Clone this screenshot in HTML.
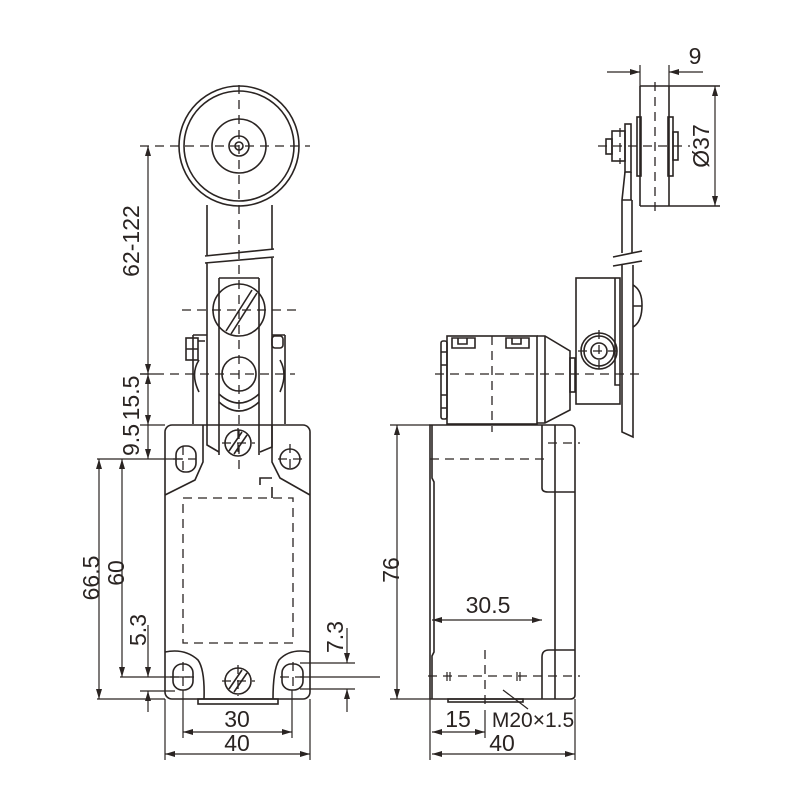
<!DOCTYPE html>
<html><head><meta charset="utf-8"><style>html,body{margin:0;padding:0;background:#fff}svg{display:block}</style></head>
<body>
<svg width="800" height="800" viewBox="0 0 800 800" xmlns="http://www.w3.org/2000/svg" font-family="Liberation Sans, sans-serif">
<defs>
<marker id="a" viewBox="0 0 10 6" refX="10" refY="3" markerWidth="11" markerHeight="6" orient="auto-start-reverse" markerUnits="userSpaceOnUse"><path d="M0,0 L10,3 L0,6 z" fill="#2a2422"/></marker>
</defs>
<g fill="none" stroke="#2a2422" stroke-width="1.6">
<circle cx="239" cy="146" r="60"/>
<circle cx="239" cy="146" r="55"/>
<circle cx="239" cy="146" r="27"/>
<circle cx="239" cy="146" r="10"/>
<circle cx="239" cy="146" r="4"/>
<path d="M207,205 V255 M272,205 V250 M205,256 L274,249 M205,263 L274,257 M207,263 V430 M272,258 V430"/>
<path d="M219,278 V455 M259,278 V455 M219,278 H259"/>
<circle cx="239" cy="310" r="26"/>
<path d="M226,331 L252,290 M231,334 L257,293"/>
<circle cx="239" cy="374" r="17"/>
<path d="M219,394 Q239,412 259,394 M219,402 Q239,420 259,402"/>
<path d="M193,335 V424 M285,335 V424 M193,335 H207 M272,335 H285"/>
<rect x="186" y="338" width="12" height="22"/>
<path d="M186,349 H198 M198,341 H205"/>
<rect x="272" y="336" width="11" height="12" rx="3"/>
<path d="M199,360 Q190,374 199,392 M280,360 Q288,374 280,392"/>
<rect x="165" y="425" width="145" height="274" rx="7"/>
<path d="M165,495 L195,480 L203,462 V425 M310,495 L280,478 L272,462 V425"/>
<path d="M207,430 V445 L219,452 M272,430 V447 L260,452"/>
<path d="M165,652 Q185,648 198,660 Q205,670 204,699 M310,652 Q290,648 279,660 Q273,670 273,699"/>
<rect x="198" y="699" width="80" height="5"/>
<rect x="176" y="446" width="20" height="26" rx="9"/>
<circle cx="290" cy="459" r="10"/>
<rect x="173" y="664" width="20" height="26" rx="9"/>
<rect x="282" y="664" width="21" height="26" rx="9"/>
<circle cx="238" cy="443" r="13"/>
<path d="M229,451 L242,432 M234,454 L247,435"/>
<circle cx="238" cy="681" r="13"/>
<path d="M229,689 L242,670 M234,692 L247,673"/>
<path d="M260,485 V478 H272 M272,487 V498"/>
</g>
<g fill="none" stroke="#2a2422" stroke-width="1.3" stroke-dasharray="9,6">
<path d="M140,146 H310 M239,85 V470 M140,374 H295 M183,498 H293 V643 H183 Z M296,310 H180"/>
<path d="M183,446 V475 M173,459 H196 M290,444 V474 M278,459 H302 M183,662 V692 M170,677 H197 M293,662 V692 M280,677 H306 M238,428 V458 M222,443 H255 M238,665 V696 M222,681 H255"/>
</g>
<g stroke="#2a2422" stroke-width="1.2" fill="none">
<path d="M148,146 V374" marker-start="url(#a)" marker-end="url(#a)"/>
<path d="M140,374 H155 M140,425 H165 M97,459 H183 M120,677 H190 M97,699 H165 M140,691 H175"/>
<path d="M148,374 V425" marker-start="url(#a)" marker-end="url(#a)"/>
<path d="M148,425 V459" marker-end="url(#a)"/>
<path d="M99,459 V699" marker-start="url(#a)" marker-end="url(#a)"/>
<path d="M122,459 V677" marker-start="url(#a)" marker-end="url(#a)"/>
<path d="M148,625 V677" marker-end="url(#a)"/>
<path d="M148,712 V691" marker-end="url(#a)"/>
<path d="M347,628 V663" marker-end="url(#a)"/>
<path d="M347,712 V689" marker-end="url(#a)"/>
<path d="M300,663 H355 M300,677 H380 M300,689 H355"/>
<path d="M165,699 V760 M310,699 V760 M183,690 V738 M292,690 V738"/>
<path d="M183,732 H292" marker-start="url(#a)" marker-end="url(#a)"/>
<path d="M165,754 H310" marker-start="url(#a)" marker-end="url(#a)"/>
</g>
<g fill="#2a2422" font-size="23">
<text transform="translate(139,241) rotate(-90)" text-anchor="middle">62-122</text>
<text transform="translate(139,398) rotate(-90)" text-anchor="middle">15.5</text>
<text transform="translate(139,440) rotate(-90)" text-anchor="middle">9.5</text>
<text transform="translate(99,578) rotate(-90)" text-anchor="middle">66.5</text>
<text transform="translate(124,573) rotate(-90)" text-anchor="middle">60</text>
<text transform="translate(146,630) rotate(-90)" text-anchor="middle">5.3</text>
<text transform="translate(343,637) rotate(-90)" text-anchor="middle">7.3</text>
<text x="237" y="727" text-anchor="middle">30</text>
<text x="237" y="751" text-anchor="middle">40</text>
</g>
<g fill="none" stroke="#2a2422" stroke-width="1.6">
<path d="M640,86 H720 M640,206 H720 M640,86 V206 M669,86 V206"/>
<rect x="637" y="117" width="4" height="59"/>
<rect x="668" y="117" width="5" height="59"/>
<rect x="673" y="132" width="5" height="28"/>
<rect x="625" y="124" width="6" height="48"/>
<rect x="612" y="131" width="13" height="30"/>
<rect x="606" y="139" width="6" height="15"/>
<path d="M625,172 L622,200 V253 M631,172 V200 M632,200 V253 M622,200 H632"/>
<path d="M613,257 L642,251 M613,266 L642,261"/>
<path d="M622,265 V432 L633,437 V265"/>
<rect x="576" y="278" width="44" height="126"/>
<path d="M615,278 V385 H620"/>
<path d="M633,285 Q642,290 642,305 Q642,322 633,327 M633,306 H642"/>
<circle cx="599" cy="351" r="18"/>
<circle cx="599" cy="351" r="15"/>
<circle cx="599" cy="351" r="8"/>
<rect x="447" y="336" width="90" height="88"/>
<path d="M537,336 H545 L570,351 V410 L545,423 H537 M545,336 V423"/>
<rect x="570" y="358" width="5" height="34"/>
<rect x="441" y="341" width="6" height="78" rx="2"/>
<path d="M441,352 H447 M441,365 H447 M441,395 H447 M441,408 H447"/>
<path d="M452,348 V338 H475 V348 Z M506,348 V338 H529 V348 Z M458,338 V344 H467 V338 M512,338 V344 H521 V338"/>
<path d="M430,699 V425 H570 Q575,425 575,430 V695 Q575,699 570,699 H430"/>
<path d="M432,425 V478 L434,482 V652 L432,656 V699"/>
<path d="M542,425 V488 Q542,492 548,492 H575 M555,425 V699"/>
<path d="M542,699 V657 Q542,650 549,650 H575"/>
<rect x="448" y="699" width="75" height="3"/>
</g>
<g fill="none" stroke="#2a2422" stroke-width="1.3" stroke-dasharray="9,6">
<path d="M655,82 V212 M598,146 H690 M435,374 H640 M492,336 V432 M430,459 H545 M548,443 H580 M428,676 H580 M485,650 V710 M620,128 V164 M599,330 V372 M578,351 H620"/>
</g>
<g stroke="#2a2422" stroke-width="1.2" fill="none">
<path d="M640,65 V86 M669,65 V86"/>
<path d="M607,72 H640" marker-end="url(#a)"/>
<path d="M703,72 H669" marker-end="url(#a)"/>
<path d="M715,86 V206" marker-start="url(#a)" marker-end="url(#a)"/>
<path d="M397,425 V699" marker-start="url(#a)" marker-end="url(#a)"/>
<path d="M390,425 H430 M390,699 H430"/>
<path d="M432,620 H542" marker-start="url(#a)" marker-end="url(#a)"/>
<path d="M430,699 V760 M575,699 V760 M485,710 V738"/>
<path d="M432,732 H485" marker-start="url(#a)" marker-end="url(#a)"/>
<path d="M432,754 H575" marker-start="url(#a)" marker-end="url(#a)"/>
<path d="M503,690 L528,709"/>
<path d="M447,672 V681 M450,672 V681 M517,672 V681 M520,672 V681"/>
</g>
<g fill="#2a2422" font-size="23">
<text x="695" y="64" text-anchor="middle">9</text>
<text transform="translate(709,146) rotate(-90)" text-anchor="middle">Ø37</text>
<text transform="translate(399,570) rotate(-90)" text-anchor="middle">76</text>
<text x="488" y="613" text-anchor="middle">30.5</text>
<text x="458" y="727" text-anchor="middle">15</text>
<text x="533" y="727" text-anchor="middle" font-size="21">M20×1.5</text>
<text x="502" y="751" text-anchor="middle">40</text>
</g>
</svg>
</body></html>
